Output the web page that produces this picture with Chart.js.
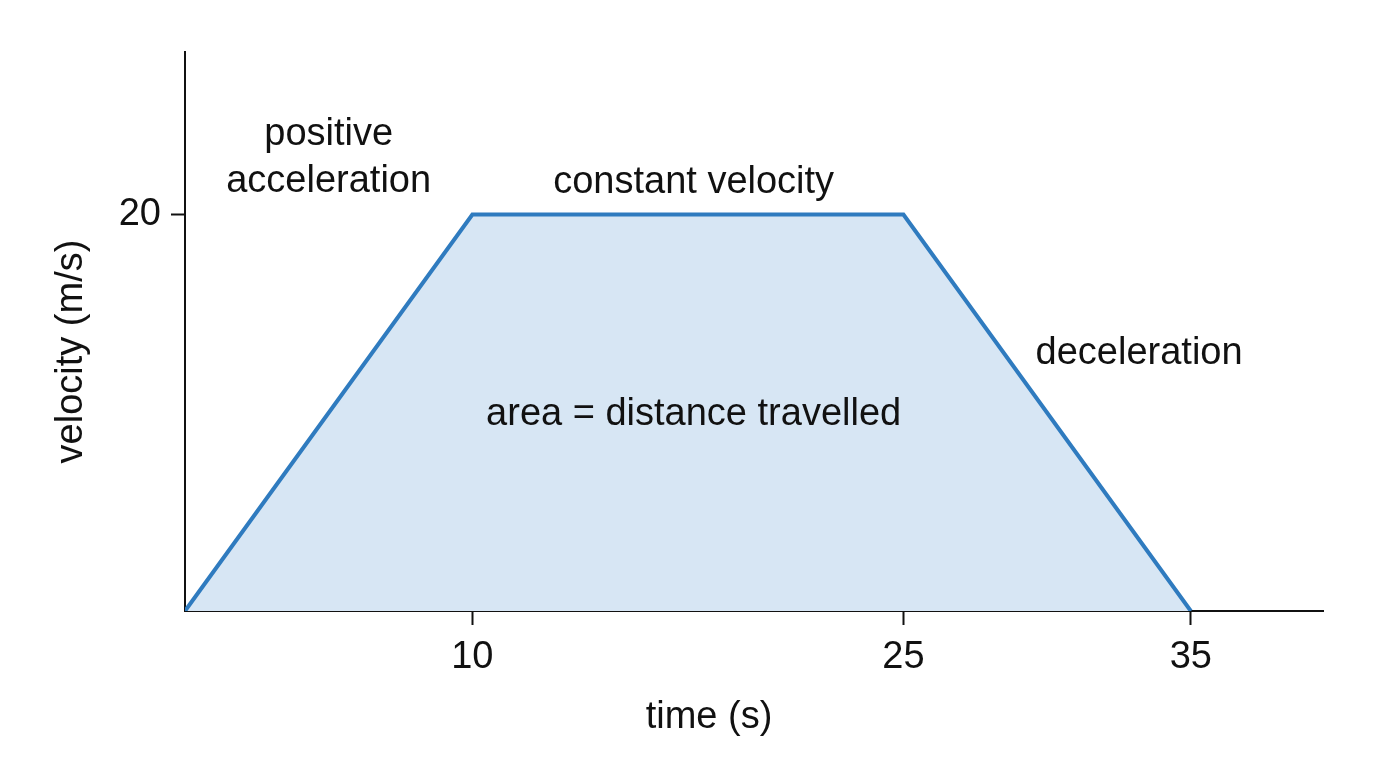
<!DOCTYPE html>
<html><head><meta charset="utf-8">
<script src="https://cdn.jsdelivr.net/npm/chart.js@4"></script>
<style>html,body{margin:0;background:#fff}#w{width:1376px;height:768px}</style>
</head><body><div id="w"><canvas id="c"></canvas></div>
<script>
const times = [0, 10, 25, 35];
const velocities = [0, 20, 20, 0];
const xTicks = [10, 25, 35];
const yTicks = [20];
const notes = [
  {x: 5, y: 22.85, lines: ['positive', 'acceleration']},
  {x: 17.7, y: 21.6, lines: ['constant velocity']},
  {x: 33.2, y: 13, lines: ['deceleration']},
  {x: 17.7, y: 9.9, lines: ['area = distance travelled']}
];
const F = 'Liberation Sans, Arial, sans-serif';
const notePlugin = {
  id: 'notes',
  afterDatasetsDraw(ch) {
    const c = ch.ctx, xs = ch.scales.x, ys = ch.scales.y;
    c.save(); c.fillStyle = '#111'; c.font = '38px ' + F;
    c.textAlign = 'center'; c.textBaseline = 'middle';
    notes.forEach(n => {
      const px = xs.getPixelForValue(n.x), py = ys.getPixelForValue(n.y);
      n.lines.forEach((t, i) => c.fillText(t, px, py + (i - (n.lines.length - 1) / 2) * 47));
    });
    c.fillText('time (s)', (xs.left + xs.getPixelForValue(39.6) + 0) / 2 - 45, 718);
    c.translate(72, (ys.top + ys.bottom) / 2 + 20);
    c.rotate(-Math.PI / 2);
    c.fillText('velocity (m/s)', 0, 0);
    c.restore();
  }
};
new Chart(document.getElementById('c'), {
  type: 'line',
  data: {datasets: [{
    data: times.map((t, i) => ({x: t, y: velocities[i]})),
    borderColor: '#2f7bbf', borderWidth: 4, backgroundColor: '#d7e6f4',
    fill: 'origin', pointRadius: 0, tension: 0
  }]},
  options: {
    responsive: true, maintainAspectRatio: false, animation: false,
    layout: {padding: {top: 52, right: 53, left: 0, bottom: 0}},
    plugins: {legend: {display: false}, tooltip: {enabled: false}},
    scales: {
      x: {type: 'linear', min: 0, max: 39.6,
        afterBuildTicks: s => { s.ticks = xTicks.map(v => ({value: v})); },
        afterFit: s => { s.height = 157; },
        border: {color: '#111', width: 2},
        grid: {drawOnChartArea: false, color: '#111', tickLength: 14, tickWidth: 2},
        ticks: {color: '#111', font: {size: 38, family: F}, padding: 10, maxRotation: 0}
      },
      y: {min: 0, max: 28.2,
        afterBuildTicks: s => { s.ticks = yTicks.map(v => ({value: v})); },
        afterFit: s => { s.width = 185; },
        border: {color: '#111', width: 2},
        grid: {drawOnChartArea: false, color: '#111', tickLength: 14, tickWidth: 2},
        ticks: {color: '#111', font: {size: 38, family: F}, padding: 10}
      }
    }
  },
  plugins: [notePlugin]
});
</script></body></html>
